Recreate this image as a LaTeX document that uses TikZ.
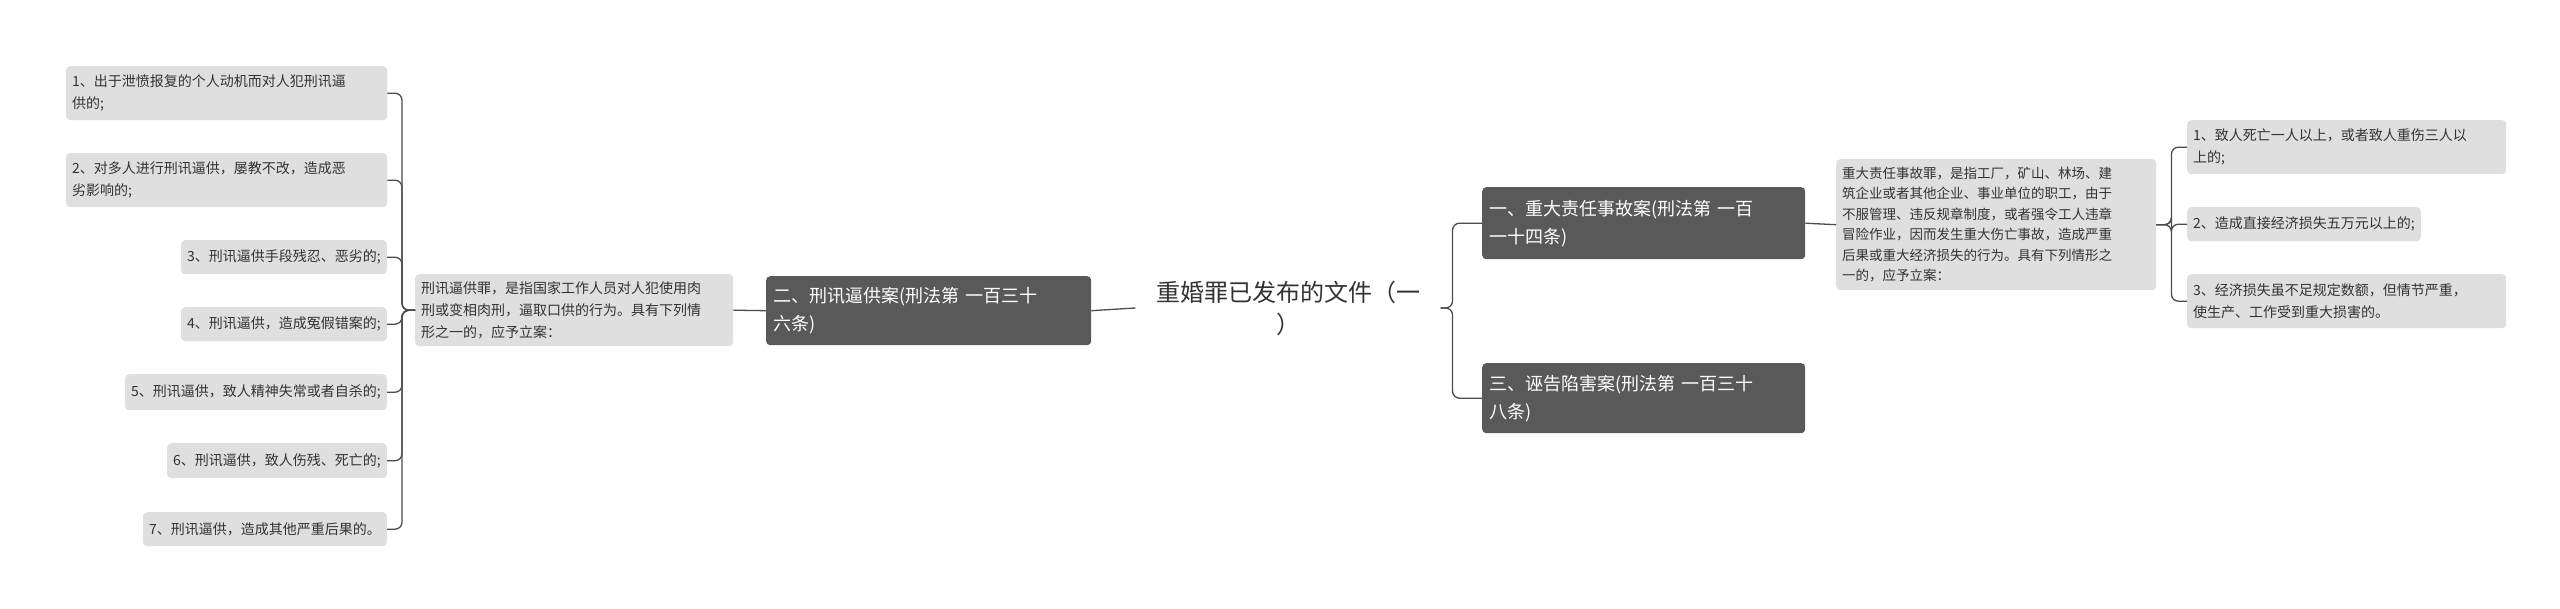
\documentclass[tikz,border=0pt]{standalone}
\usepackage{fontspec}
\setmainfont{Noto Sans CJK SC}
\begin{document}
\begin{tikzpicture}[x=1pt,y=-1pt,
  leaf/.style={fill=gray!25!white,rounded corners=4pt,inner sep=6pt,anchor=north west,align=left,font=\fontsize{14}{22}\selectfont,text=black!80},
  dark/.style={fill=black!65,rounded corners=4pt,inner sep=7pt,anchor=north west,align=left,font=\fontsize{18}{28}\selectfont,text=white},
  conn/.style={draw=black!70,line width=1.3pt,rounded corners=7pt}]
\useasboundingbox (0,0) rectangle (2560,609);
% root
\node[align=center,font=\fontsize{24}{32}\selectfont,text=black!80,text width=290pt] (root) at (1288,308) {重婚罪已发布的文件（一\\）};
% left
\node[dark,minimum width=325pt,minimum height=69pt,text width=311pt] (L) at (766,276) {二、刑讯逼供案(刑法第 一百三十\\六条)};
\node[leaf,minimum width=318pt,minimum height=72pt,text width=306pt] (Ld) at (415,274) {刑讯逼供罪，是指国家工作人员对人犯使用肉\\刑或变相肉刑，逼取口供的行为。具有下列情\\形之一的，应予立案：};
\node[leaf,minimum width=321pt,minimum height=54pt,text width=309pt] (l1) at (66,66) {1、出于泄愤报复的个人动机而对人犯刑讯逼\\供的;};
\node[leaf,minimum width=321pt,minimum height=54pt,text width=309pt] (l2) at (66,153) {2、对多人进行刑讯逼供，屡教不改，造成恶\\劣影响的;};
\node[leaf,anchor=north east,minimum height=34pt] (l3) at (387,240) {3、刑讯逼供手段残忍、恶劣的;};
\node[leaf,anchor=north east,minimum height=34pt] (l4) at (387,307) {4、刑讯逼供，造成冤假错案的;};
\node[leaf,anchor=north east,minimum height=36pt] (l5) at (387,374) {5、刑讯逼供，致人精神失常或者自杀的;};
\node[leaf,anchor=north east,minimum height=35pt] (l6) at (387,443) {6、刑讯逼供，致人伤残、死亡的;};
\node[leaf,anchor=north east,minimum height=34pt] (l7) at (387,512) {7、刑讯逼供，造成其他严重后果的。};
% right
\node[dark,minimum width=323pt,minimum height=72pt,text width=309pt] (R1) at (1482,187) {一、重大责任事故案(刑法第 一百\\一十四条)};
\node[dark,minimum width=323pt,minimum height=70pt,text width=309pt] (R3) at (1482,363) {三、诬告陷害案(刑法第 一百三十\\八条)};
\node[leaf,minimum width=320pt,minimum height=131pt,text width=308pt,inner sep=5pt,font=\fontsize{13.5}{20.5}\selectfont] (Rd) at (1836,159) {重大责任事故罪，是指工厂，矿山、林场、建\\筑企业或者其他企业、事业单位的职工，由于\\不服管理、违反规章制度，或者强令工人违章\\冒险作业，因而发生重大伤亡事故，造成严重\\后果或重大经济损失的行为。具有下列情形之\\一的，应予立案：};
\node[leaf,minimum width=319pt,minimum height=54pt,text width=307pt] (r1) at (2187,120) {1、致人死亡一人以上，或者致人重伤三人以\\上的;};
\node[leaf,minimum height=34pt] (r2) at (2187,207) {2、造成直接经济损失五万元以上的;};
\node[leaf,minimum width=319pt,minimum height=54pt,text width=307pt] (r3) at (2187,274) {3、经济损失虽不足规定数额，但情节严重，\\使生产、工作受到重大损害的。};
% connectors
\draw[conn] (root.west) ++(-4,0) coordinate (rw) -- (L.east);
\draw[conn] (L.west) -- (Ld.east);
\foreach \n in {l1,l2,l3,l4,l5,l6,l7}{\draw[conn] (Ld.west) -- ++(-13,0) |- (\n.east);}
\coordinate (re) at ([xshift=4pt]root.east);
\draw[conn] (re) -- ++(12,0) |- (R1.west);
\draw[conn] (re) -- ++(12,0) |- (R3.west);
\draw[conn] (R1.east) -- (Rd.west);
\foreach \n in {r1,r2,r3}{\draw[conn] (Rd.east) -- ++(15,0) |- (\n.west);}
\end{tikzpicture}
\end{document}
